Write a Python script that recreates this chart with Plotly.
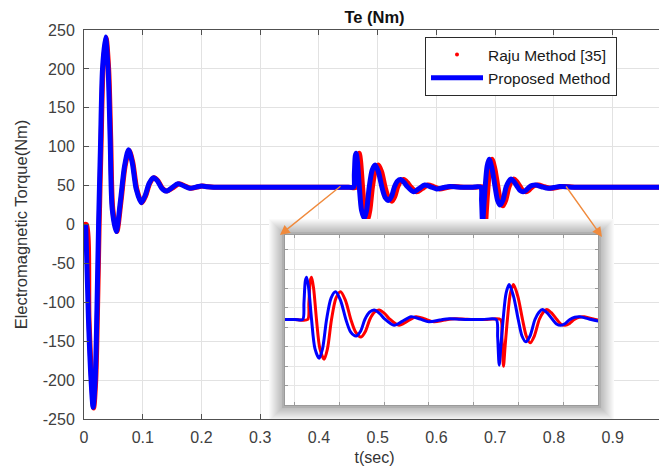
import plotly.graph_objects as go

# ---------------- data ----------------
# Proposed Method (blue)
t_prop = [0.003, 0.0075, 0.012, 0.0155, 0.019, 0.022, 0.0248, 0.028, 0.0315, 0.0366,
          0.041, 0.0445, 0.048, 0.0549, 0.062, 0.069, 0.0758, 0.082, 0.089, 0.0974,
          0.104, 0.111, 0.1184, 0.125, 0.132, 0.14, 0.15, 0.16, 0.17, 0.18,
          0.19, 0.2, 0.21, 0.22, 0.3, 0.4, 0.45, 0.4588,
          0.4602, 0.4618, 0.4632, 0.4655, 0.4687, 0.4725, 0.4772, 0.481, 0.4855, 0.4905,
          0.4955, 0.501, 0.5071, 0.5125, 0.5185, 0.5235, 0.5283, 0.5335, 0.5387, 0.545,
          0.55, 0.561, 0.57, 0.58, 0.59, 0.60, 0.612, 0.623, 0.635, 0.645, 0.66, 0.6752,
          0.6768, 0.6785, 0.6803, 0.6829, 0.6862, 0.6897, 0.6945, 0.6998, 0.704, 0.7083,
          0.713, 0.7185, 0.723, 0.7269, 0.732, 0.7382, 0.7425, 0.7475, 0.7525, 0.7576,
          0.763, 0.7688, 0.779, 0.79, 0.80, 0.81, 0.83, 0.9, 1.0]
te_prop = [0, -120, -200, -235, -200, -110, 0, 100, 200, 241,
           200, 110, 20, -9, 30, 75, 96, 80, 45, 28,
           37, 53, 60, 56, 47, 43, 47.5, 52.5, 49.5, 46.5,
           48, 49.5, 48.5, 48, 48, 48, 48, 48,
           65, 88, 91.5, 80, 48, 18, 8, 18, 48, 70,
           76.5, 68, 48, 35, 31, 36, 48, 55.5, 57.7, 54,
           49, 42, 46, 50.8, 48.5, 45.7, 47.5, 48.8, 48.3, 48, 48, 48,
           30, 1, 20, 48, 75, 84, 72, 48, 31, 25,
           31, 48, 55.5, 58.4, 55, 48, 43.5, 42, 44, 48,
           50.3, 50.8, 48.5, 46.5, 47.5, 48.8, 48, 48, 48]

# Raju Method [35] (red)
t_raju = [0.0, 0.004, 0.0085, 0.013, 0.0165, 0.020, 0.023, 0.0258, 0.029, 0.0325, 0.0376,
          0.042, 0.0455, 0.049, 0.0559, 0.063, 0.070, 0.0768, 0.083, 0.090, 0.0984,
          0.105, 0.112, 0.1194, 0.126, 0.133, 0.141, 0.152, 0.162, 0.172, 0.182,
          0.192, 0.202, 0.212, 0.222, 0.3, 0.4, 0.45, 0.4643,
          0.4657, 0.4673, 0.4687, 0.471, 0.4742, 0.478, 0.4827, 0.4865, 0.491, 0.496,
          0.501, 0.5065, 0.5126, 0.518, 0.524, 0.529, 0.5338, 0.539, 0.5442, 0.5505,
          0.5555, 0.5665, 0.5755, 0.5855, 0.5955, 0.6055, 0.6175, 0.6285, 0.6405, 0.65, 0.665, 0.680,
          0.6816, 0.6833, 0.6851, 0.6877, 0.691, 0.6945, 0.6993, 0.7046, 0.7088, 0.7131,
          0.7178, 0.7233, 0.7278, 0.7317, 0.7368, 0.743, 0.7473, 0.7523, 0.7573, 0.7624,
          0.7678, 0.7736, 0.7838, 0.7948, 0.8048, 0.8148, 0.835, 0.9, 1.0]
te_raju = [0, 0, -120, -200, -236, -200, -110, 0, 100, 200, 240,
           200, 110, 20, -9, 30, 75, 95, 80, 45, 28,
           37, 53, 60, 56, 47, 43, 47.5, 52.5, 49.5, 46.5,
           48, 49.5, 48.5, 48, 48, 48, 48, 48,
           65, 88, 91.5, 80, 48, 18, 7, 18, 48, 70,
           76.5, 68, 48, 35, 30, 36, 48, 55.5, 57.7, 54,
           49, 42, 46, 50.8, 48.5, 45.7, 47.5, 48.8, 48.3, 48, 48, 48,
           30, 0, 20, 48, 75, 84, 72, 48, 31, 24,
           31, 48, 55.5, 58.4, 55, 48, 43.5, 42, 44, 48,
           50.3, 50.8, 48.5, 46.5, 47.5, 48.8, 48, 48, 48]

x_ticks = [0, 0.1, 0.2, 0.3, 0.4, 0.5, 0.6, 0.7, 0.8, 0.9]
x_labels = ["0", "0.1", "0.2", "0.3", "0.4", "0.5", "0.6", "0.7", "0.8", "0.9"]
y_ticks = [-250, -200, -150, -100, -50, 0, 50, 100, 150, 200, 250]
y_labels = ["-250", "-200", "-150", "-100", "-50", "0", "50", "100", "150", "200", "250"]

# ---------------- layout geometry ----------------
# The page body adds an 8 px margin, so the figure is drawn 8 px smaller and all
# window-pixel positions below are shifted by OFF.
OFF = 8
W, H = 667 - OFF, 468 - OFF
L, T = 84 - OFF, 30 - OFF
PR, PB = 665 - OFF, 419 - OFF
R, B = W - PR, H - PB
PW, PH = W - L - R, H - T - B


def px_x(p):
    return (p - OFF - L) / PW


def px_y(p):
    return (H - B - (p - OFF)) / PH


FONT = "Liberation Sans, Arial, sans-serif"
BLUE = "#0000FF"
RED = "#FF0000"

fig = go.Figure()

# legend-only marker for the red series (dotted marker in legend)
fig.add_trace(go.Scatter(x=[None], y=[None], mode="markers", name="Raju Method [35]",
                         marker=dict(color=RED, size=4), showlegend=True))
# main traces
fig.add_trace(go.Scatter(x=t_raju, y=te_raju, mode="lines", name="Raju Method [35]",
                         line=dict(color=RED, width=5, shape="spline", smoothing=0.8),
                         showlegend=False))
fig.add_trace(go.Scatter(x=t_prop, y=te_prop, mode="lines", name="Proposed Method",
                         line=dict(color=BLUE, width=5, shape="spline", smoothing=0.8)))

# cover subplot (white inset panel with shadow) -- empty trace to create it
fig.add_trace(go.Scatter(x=[None], y=[None], xaxis="x2", yaxis="y2", showlegend=False,
                         hoverinfo="skip"))

# inset traces (same data, zoomed axes)
fig.add_trace(go.Scatter(x=t_raju, y=te_raju, mode="lines", xaxis="x3", yaxis="y3",
                         line=dict(color=RED, width=3, shape="spline", smoothing=0.8),
                         showlegend=False))
fig.add_trace(go.Scatter(x=t_prop, y=te_prop, mode="lines", xaxis="x3", yaxis="y3",
                         line=dict(color=BLUE, width=3, shape="spline", smoothing=0.8),
                         showlegend=False))

# inset geometry (window pixels)
in_l, in_r, in_t, in_b = 285, 598, 235, 405
pad = 16
cv_l, cv_r, cv_t, cv_b = in_l - pad, in_r + pad, in_t - pad, min(in_b + pad, 419)
cw, ch = cv_r - cv_l, cv_b - cv_t
bpad = cv_b - in_b

shapes = []
# soft shadow layers
n_sh = 14
for i in range(n_sh, 0, -1):
    shapes.append(dict(type="rect", xref="x2", yref="y2", layer="below",
                       x0=pad - 2 - i, x1=cw - pad + 2 + i,
                       y0=bpad - 2 - i, y1=ch - pad + 2 + i,
                       fillcolor="rgba(0,0,0,0.02)", line=dict(width=0)))
# white panel with gray frame
shapes.append(dict(type="rect", xref="x2", yref="y2", layer="below",
                   x0=pad - 1.5, x1=cw - pad + 1.5,
                   y0=bpad - 1.5, y1=ch - pad + 1.5,
                   fillcolor="white", line=dict(color="#b0b0b0", width=3)))

axis_common = dict(showgrid=True, gridcolor="#e2e2e2", gridwidth=1, zeroline=False,
                   showline=True, linecolor="#505050", linewidth=1, mirror="ticks",
                   ticks="inside", ticklen=5, tickcolor="#505050",
                   tickfont=dict(family=FONT, size=16, color="#404040"))

fig.update_layout(
    width=W, height=H,
    margin=dict(l=L, r=R, t=T, b=B, pad=0, autoexpand=False),
    paper_bgcolor="white", plot_bgcolor="white",
    font=dict(family=FONT, color="#222222"),
    title=dict(text="<b>Te (Nm)</b>", x=0.5, xref="paper", xanchor="center",
               y=1, yref="container", yanchor="top", pad=dict(t=3, b=0, l=0, r=0),
               font=dict(family=FONT, size=16.5, color="#111111")),
    xaxis=dict(domain=[0, 1], range=[0, 0.989], tickvals=x_ticks, ticktext=x_labels,
               title=dict(text="t(sec)", standoff=6,
                          font=dict(family=FONT, size=16, color="#333333")),
               ticklabelstandoff=4, automargin=False, **axis_common),
    yaxis=dict(domain=[0, 1], range=[-250, 250], tickvals=y_ticks, ticktext=y_labels,
               title=dict(text="Electromagnetic Torque(Nm)", standoff=10,
                          font=dict(family=FONT, size=16.5, color="#333333")),
               ticklabelstandoff=5, automargin=False, **axis_common),
    xaxis2=dict(domain=[px_x(cv_l), px_x(cv_r)], range=[0, cw], visible=False,
                anchor="y2", fixedrange=True),
    yaxis2=dict(domain=[px_y(cv_b), px_y(cv_t)], range=[0, ch], visible=False,
                anchor="x2", fixedrange=True),
    xaxis3=dict(domain=[px_x(in_l), px_x(in_r)], range=[0.439, 0.789], anchor="y3",
                dtick=0.05, tick0=0, showticklabels=False, showgrid=True,
                gridcolor="#e6e6e6", zeroline=False, showline=True, linecolor="#9a9a9a",
                linewidth=1, mirror="ticks", ticks="inside", ticklen=3, tickcolor="#9a9a9a"),
    yaxis3=dict(domain=[px_y(in_b), px_y(in_t)], range=[-40, 135], anchor="x3",
                dtick=20, tick0=0, showticklabels=False, showgrid=True,
                gridcolor="#e6e6e6", zeroline=False, showline=True, linecolor="#9a9a9a",
                linewidth=1, mirror="ticks", ticks="inside", ticklen=3, tickcolor="#9a9a9a"),
    shapes=shapes,
    legend=dict(x=px_x(425), y=px_y(37), xanchor="left", yanchor="top",
                bgcolor="white", bordercolor="#2a2a2a", borderwidth=1,
                font=dict(family=FONT, size=15.5, color="#1a1a1a"),
                itemwidth=52, tracegroupgap=0),
    annotations=[
        dict(x=px_x(280), y=px_y(235), xref="paper", yref="paper", text="",
             showarrow=True, ax=62, ay=-50, arrowhead=2, arrowsize=1.4,
             arrowwidth=1.4, arrowcolor="#F08A3C"),
        dict(x=px_x(602), y=px_y(237), xref="paper", yref="paper", text="",
             showarrow=True, ax=-37, ay=-52, arrowhead=2, arrowsize=1.4,
             arrowwidth=1.4, arrowcolor="#F08A3C"),
    ],
)

fig.write_html("out.html")
